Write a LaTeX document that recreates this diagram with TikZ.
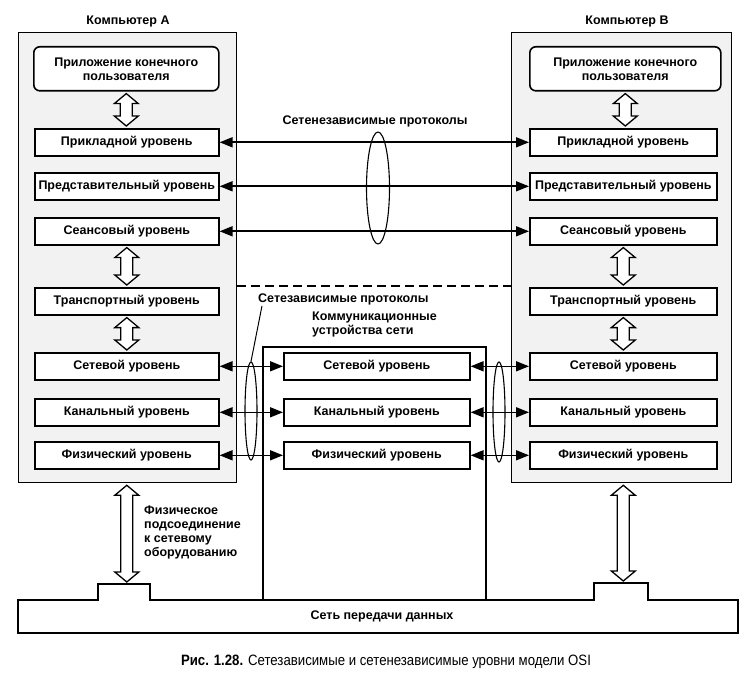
\documentclass[tikz,border=0pt]{standalone}
\usepackage{fontspec}
\setmainfont{Liberation Sans}
\newfontfamily\capfont[FakeStretch=0.88]{Liberation Sans}
\usetikzlibrary{arrows.meta,shapes.geometric,calc}
\newcommand\lblfont{\fontsize{12.5}{14}\selectfont\bfseries}
\newcommand\hollowarr[2]{%
  \draw[hollowst] let \p1=(#1), \p2=(#2) in
    (\x1,\y1-2pt) -- (\x1+12pt,\y1-12pt) -- (\x1+6pt,\y1-12pt) -- (\x1+6pt,\y2+12pt)
    -- (\x1+12pt,\y2+12pt) -- (\x1,\y2+2pt) -- (\x1-12pt,\y2+12pt) -- (\x1-6pt,\y2+12pt)
    -- (\x1-6pt,\y1-12pt) -- (\x1-12pt,\y1-12pt) -- cycle;}
\begin{document}
\begin{tikzpicture}[x=1pt,y=-1pt,
  lay/.style={draw, line width=1.6pt, fill=white, minimum height=27pt, inner sep=0pt, anchor=north west, font=\lblfont},
  appbox/.style={lay, rounded corners=6pt, minimum height=44pt, align=center},
  outerbox/.style={draw, line width=1.3pt, fill=black!5, inner sep=0pt, anchor=north west},
  conn/.style={line width=1.6pt, {Triangle[length=13pt,width=10pt]}-{Triangle[length=13pt,width=10pt]}},
  hollowst/.style={draw, line width=1.3pt, fill=white, line join=miter},
  ell/.style={draw, ellipse, line width=1.1pt, inner sep=0pt},
  txt/.style={font=\lblfont, inner sep=0pt},
  thinline/.style={line width=1.3pt}]
\useasboundingbox[fill=white] (0,0) rectangle (750,679);

% computers
\node[outerbox, minimum width=218pt, minimum height=450pt] (compA) at (18,32) {};
\node[outerbox, minimum width=220pt, minimum height=450pt] (compB) at (511,32) {};
\node[txt] (labA) at (128,21) {Компьютер А};
\node[txt] (labB) at (627,21) {Компьютер В};

% communication device frame
\coordinate (cmL) at (263,600);
\coordinate (cmR) at (486,600);
\draw[thinline] (cmL) -- (263,347) -- (486,347) -- (cmR);
\node[txt, align=left, anchor=north west] (cmlab) at (312,312) {Коммуникационные\\устройства сети};

% network
\draw[thinline] (18,600) -- (98,600) -- (98,584) -- (150,584) -- (150,600) -- (594,600)
  -- (594,583) -- (648,583) -- (648,600) -- (738,600) -- (738,633) -- (18,633) -- cycle;
\coordinate (bumpA) at (126,584);
\coordinate (bumpB) at (622,583);
\node[txt] (net) at (382,616) {Сеть передачи данных};

% layers A
\node[appbox, minimum width=185pt] (aApp) at (33,46) {Приложение конечного\\пользователя};
\node[lay, minimum width=184pt] (aPr) at (34,128) {Прикладной уровень};
\node[lay, minimum width=184pt] (aPd) at (34,172) {Представительный уровень};
\node[lay, minimum width=184pt] (aSe) at (34,217) {Сеансовый уровень};
\node[lay, minimum width=184pt] (aTr) at (34,287) {Транспортный уровень};
\node[lay, minimum width=184pt] (aNe) at (34,352) {Сетевой уровень};
\node[lay, minimum width=184pt] (aDl) at (34,398) {Канальный уровень};
\node[lay, minimum width=184pt] (aPh) at (34,441) {Физический уровень};

% layers B
\node[appbox, minimum width=191pt] (bApp) at (529,46) {Приложение конечного\\пользователя};
\node[lay, minimum width=187pt] (bPr) at (529,128) {Прикладной уровень};
\node[lay, minimum width=187pt] (bPd) at (529,172) {Представительный уровень};
\node[lay, minimum width=187pt] (bSe) at (529,217) {Сеансовый уровень};
\node[lay, minimum width=187pt] (bTr) at (529,287) {Транспортный уровень};
\node[lay, minimum width=187pt] (bNe) at (529,352) {Сетевой уровень};
\node[lay, minimum width=187pt] (bDl) at (529,398) {Канальный уровень};
\node[lay, minimum width=187pt] (bPh) at (529,441) {Физический уровень};

% middle
\node[lay, minimum width=186pt] (mNe) at (283,352) {Сетевой уровень};
\node[lay, minimum width=186pt] (mDl) at (283,398) {Канальный уровень};
\node[lay, minimum width=186pt] (mPh) at (283,441) {Физический уровень};

% hollow arrows
\hollowarr{aApp.south}{aPr.north}
\hollowarr{aSe.south}{aTr.north}
\hollowarr{aTr.south}{aNe.north}
\hollowarr{bApp.south}{bPr.north}
\hollowarr{bSe.south}{bTr.north}
\hollowarr{bTr.south}{bNe.north}
\hollowarr{aPh.south |- compA.south}{bumpA}
\hollowarr{bPh.south |- compB.south}{bumpB}

% upper protocol arrows
\draw[conn] (aPr.east) -- (bPr.west);
\draw[conn] (aPd.east) -- (bPd.west);
\draw[conn] (aSe.east) -- (bSe.west);
\node[ell, minimum width=23pt, minimum height=112pt] (ellT) at (378,188) {};
\node[txt] (indep) at (375,121) {Сетенезависимые протоколы};

% dashed separator
\coordinate (dash) at (0,286);
\draw[line width=1.3pt, dash pattern=on 9pt off 5pt] (compA.east |- dash) -- (compB.west |- dash);

% lower arrows
\draw[conn] (aNe.east) -- (mNe.west);
\draw[conn] (aDl.east) -- (mDl.west);
\draw[conn] (aPh.east) -- (mPh.west);
\draw[conn] (mNe.east) -- (bNe.west);
\draw[conn] (mDl.east) -- (bDl.west);
\draw[conn] (mPh.east) -- (bPh.west);
\node[ell, minimum width=12pt, minimum height=98pt] (ellL) at (251,411) {};
\node[ell, minimum width=12pt, minimum height=100pt] (ellR) at (499,412) {};
\node[txt, anchor=west] (dep) at (258,299) {Сетезависимые протоколы};
\draw[line width=1pt] ([xshift=4pt,yshift=-1pt]dep.south west) -- (ellL.north);

% physical connection label
\node[txt, align=left, anchor=north west] (phys) at (144,506) {Физическое\\подсоединение\\к сетевому\\оборудованию};

% caption
\node[inner sep=0pt, font={\capfont\fontsize{15}{17}\selectfont}] (cap) at (386,662)
  {\textbf{Рис. 1.28.} Сетезависимые и сетенезависимые уровни модели OSI};
\end{tikzpicture}
\end{document}
